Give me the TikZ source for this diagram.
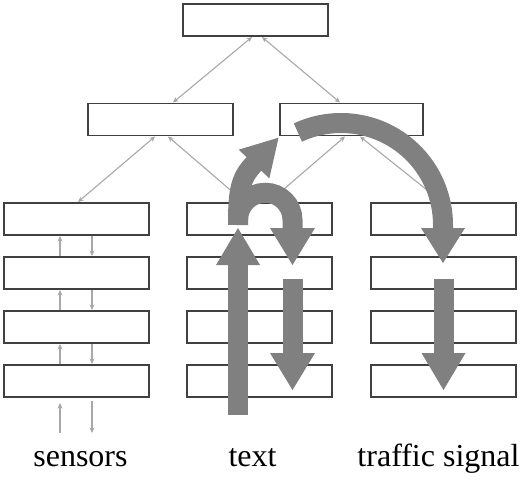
\documentclass[tikz,border=0pt]{standalone}
\usepackage{fontspec}
\setmainfont{Liberation Serif}
\usetikzlibrary{arrows.meta,calc}
\definecolor{bigarrow}{HTML}{808080}
\definecolor{thinline}{HTML}{A8A8A8}
\definecolor{boxline}{HTML}{404040}
\begin{document}
\begin{tikzpicture}[x=1pt,y=1pt,
 blk/.style={draw=boxline,line width=1.4pt,fill=white,minimum width=145pt,minimum height=32pt,inner sep=0pt,outer sep=0pt},
 link/.style={draw=thinline,line width=1.1pt,{Stealth[length=5.5pt,width=5pt]}-{Stealth[length=5.5pt,width=5pt]}},
 onearr/.style={draw=thinline,line width=1.1pt,-{Stealth[length=5.5pt,width=5pt]}},
 shaft/.style={draw=bigarrow,line width=20pt,line cap=butt},
 lbl/.style={font=\fontsize{32}{38}\selectfont,anchor=base,inner sep=0pt}]
\useasboundingbox (0,0) rectangle (526,491);
% boxes
\node[blk] (top) at (255.5,471) {};
\node[blk] (ml) at (160.5,371.5) {};
\node[blk,minimum width=143pt] (mr) at (351.5,371.5) {};
\foreach \i/\yy in {1/272,2/218,3/164,4/110}{
  \node[blk] (l\i) at (76.5,\yy) {};
  \node[blk] (m\i) at (259.5,\yy) {};
  \node[blk] (r\i) at (443.5,\yy) {};
}
% thin connectors
\draw[link] ($(top.south)+(-3.5,-1)$) -- ($(ml.north)+(12.5,1)$);
\draw[link] ($(top.south)+(6.5,-1)$) -- ($(mr.north)+(-11.5,1)$);
\draw[link] ($(ml.south)+(-5.5,-1)$) -- ($(l1.north)+(1.5,1)$);
\draw[link] ($(ml.south)+(7.5,-1)$) -- ($(m1.north)+(-17.5,3)$);
\draw[link] ($(mr.south)+(-6.5,-1)$) -- ($(m1.north)+(17.5,8)$);
\draw[link] ($(mr.south)+(8.5,-1)$) -- ($(r1.north)+(-1.5,1)$);
% left column small arrows
\foreach \a/\b in {l2/l1,l3/l2,l4/l3}{
  \draw[onearr] ($(\a.north)+(-16.5,1)$) -- ($(\b.south)+(-16.5,-1)$);
  \draw[onearr] ($(\b.south)+(15.5,-1)$) -- ($(\a.north)+(15.5,1)$);
}
\coordinate (inU) at (60,58);
\coordinate (outD) at (92,58);
\draw[onearr] (inU) -- ($(l4.south)+(-16.5,-6)$);
\draw[onearr] ($(l4.south)+(15.5,-4)$) -- (outD);
% big arrows
% straight up
\coordinate (a1s) at (238,76);
\coordinate (a1b) at (238,226);
\draw[shaft] (a1s) -- ($(a1b)+(0,1)$);
\fill[bigarrow] ($(a1b)+(-22,0)$) -- ($(a1b)+(22,0)$) -- ($(a1b)+(0,37)$) -- cycle;
% middle down
\coordinate (a2s) at (292.5,212);
\coordinate (a2b) at (292.5,138);
\draw[shaft] (a2s) -- ($(a2b)+(0,-1)$);
\fill[bigarrow] ($(a2b)+(-22.5,0)$) -- ($(a2b)+(22.5,0)$) -- ($(a2b)+(0,-37)$) -- cycle;
% right down
\coordinate (a3s) at (443.5,212);
\coordinate (a3b) at (443.5,138);
\draw[shaft] (a3s) -- ($(a3b)+(0,-1)$);
\fill[bigarrow] ($(a3b)+(-22,0)$) -- ($(a3b)+(22,0)$) -- ($(a3b)+(0,-37)$) -- cycle;
% U-turn
\coordinate (us) at (238,270);
\coordinate (ub) at (292.5,263);
\draw[shaft] (us) -- (238,271) arc[start angle=180,end angle=0,radius=27.25] -- ($(ub)+(0,-1)$);
\fill[bigarrow] ($(ub)+(-22.5,0)$) -- ($(ub)+(22.5,0)$) -- ($(ub)+(0,-37)$) -- cycle;
% up-right branch
\coordinate (bs) at (238,266);
\coordinate (bb) at (254,327);
\draw[shaft] (bs) .. controls (238,300) and (240,313) .. ($(bb)+(47:1)$);
\fill[bigarrow,shift={(bb)},rotate=47] (0,-21) -- (0,21) -- (36,0) -- cycle;
% big arc
\coordinate (cc) at (341,266);
\coordinate (cb) at (443,263);
\draw[shaft] ($(cc)+(115:102)$) arc[start angle=115,end angle=0,radius=102] -- ($(cb)+(0,-1)$);
\fill[bigarrow] ($(cb)+(-22,0)$) -- ($(cb)+(22,0)$) -- ($(cb)+(0,-35)$) -- cycle;
% labels
\node[lbl] (t1) at (80.5,25) {sensors};
\node[lbl] (t2) at (252.5,25) {text};
\node[lbl] (t3) at (438.5,25) {traffic signal};
\end{tikzpicture}
\end{document}
